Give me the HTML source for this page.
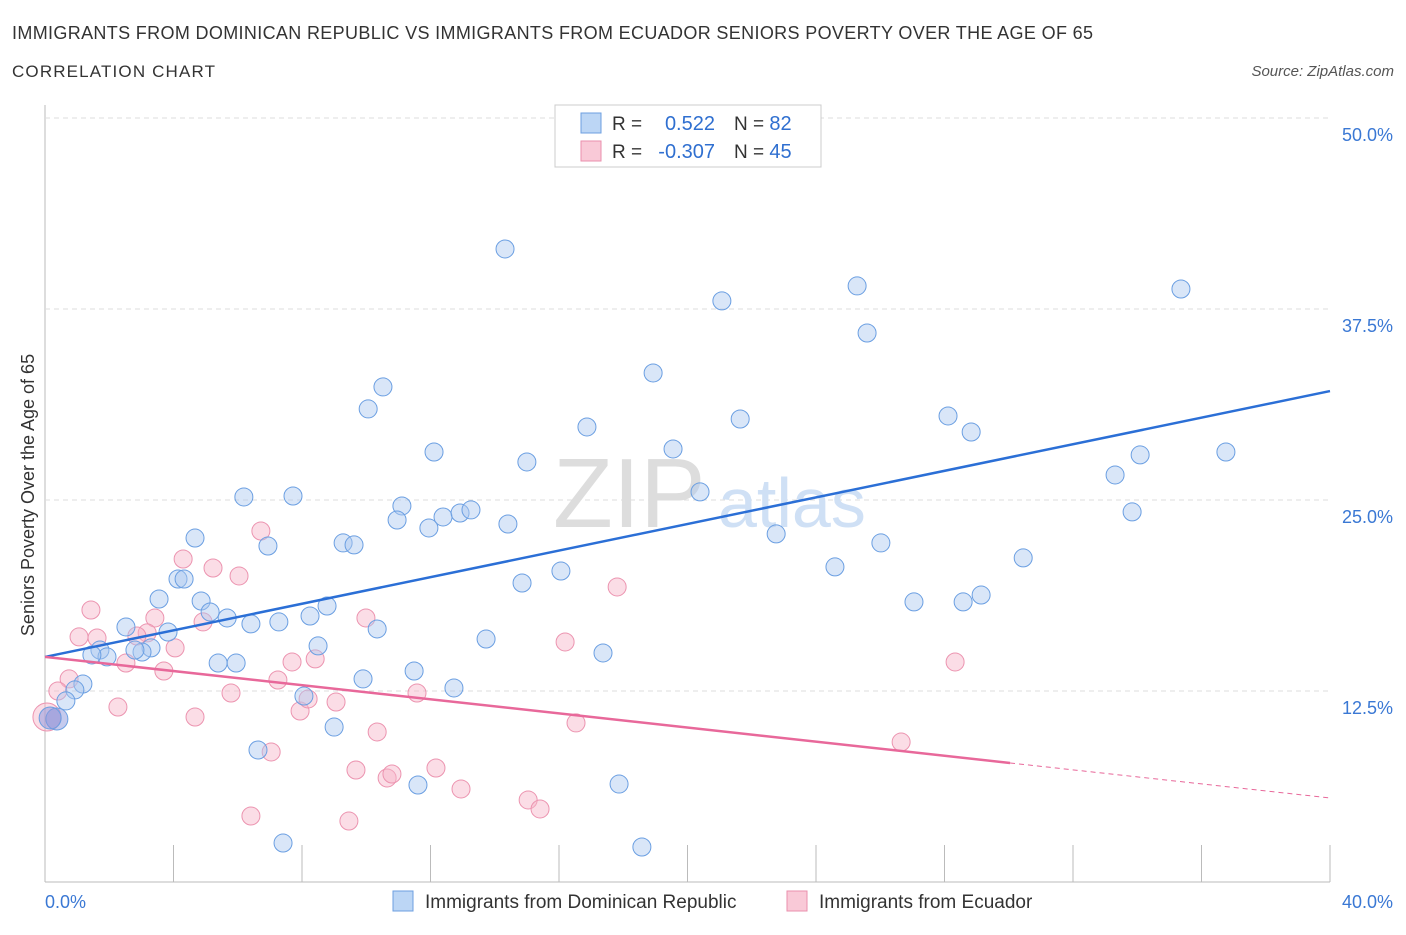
<!DOCTYPE html>
<html><head><meta charset="utf-8"><style>
body{margin:0;background:#fff;font-family:"Liberation Sans",sans-serif;}
svg text{font-family:"Liberation Sans",sans-serif;}
</style></head><body>
<svg width="1406" height="930" xmlns="http://www.w3.org/2000/svg">
<text x="12" y="39" font-size="18" fill="#333" textLength="1081">IMMIGRANTS FROM DOMINICAN REPUBLIC VS IMMIGRANTS FROM ECUADOR SENIORS POVERTY OVER THE AGE OF 65</text>
<text x="12" y="77" font-size="17" fill="#333" textLength="203">CORRELATION CHART</text>
<text x="1394" y="76" font-size="15" fill="#555" font-style="italic" text-anchor="end">Source: ZipAtlas.com</text>
<g id="grid"></g>
<text x="553" y="527" font-size="98" fill="#ddd" font-family="Liberation Serif">ZIP</text>
<text x="718" y="527" font-size="70" fill="#cfe0f5">atlas</text>
<g id="pts"></g>
<g id="lines"></g>
<text transform="translate(34,495) rotate(-90)" font-size="18" fill="#333" text-anchor="middle">Seniors Poverty Over the Age of 65</text>
<text x="45" y="908" font-size="18" fill="#3a78d4">0.0%</text>
<text x="1393" y="908" font-size="18" fill="#3a78d4" text-anchor="end">40.0%</text>
<g>
<rect x="555" y="105" width="266" height="62" fill="#fff" stroke="#ccc"/>
<rect x="581" y="113" width="20" height="20" fill="#bcd6f5" stroke="#6d9fe0"/>
<rect x="581" y="141" width="20" height="20" fill="#f9c9d7" stroke="#ea8fac"/>
<text x="612" y="130" font-size="19" fill="#333">R = </text>
<text x="715" y="130" font-size="20" fill="#2f6fd0" text-anchor="end">0.522</text>
<text x="734" y="130" font-size="19" fill="#333">N = <tspan fill="#2f6fd0" font-size="20">82</tspan></text>
<text x="612" y="158" font-size="19" fill="#333">R = </text>
<text x="715" y="158" font-size="20" fill="#2f6fd0" text-anchor="end">-0.307</text>
<text x="734" y="158" font-size="19" fill="#333">N = <tspan fill="#2f6fd0" font-size="20">45</tspan></text>
</g>
<g>
<rect x="393" y="891" width="20" height="20" fill="#bcd6f5" stroke="#6d9fe0"/>
<text x="425" y="908" font-size="19" fill="#333">Immigrants from Dominican Republic</text>
<rect x="787" y="891" width="20" height="20" fill="#f9c9d7" stroke="#ea8fac"/>
<text x="819" y="908" font-size="19" fill="#333">Immigrants from Ecuador</text>
</g>
</svg>
<script>
const blueX=[14.32,21.07,25.28,35.36,25.59,10.52,10.06,18.93,16.87,21.64,28.11,28.83,12.11,15.00,19.55,33.31,34.09,36.76,6.19,7.72,11.11,10.96,11.95,12.39,12.92,13.26,14.41,20.39,33.84,4.67,6.94,9.28,9.62,22.76,26.02,30.45,16.06,14.85,24.59,4.14,4.33,3.55,4.86,5.14,5.67,6.41,7.28,8.25,8.78,27.05,28.58,29.14,2.52,3.83,10.34,13.73,8.50,3.30,3.02,2.80,1.71,1.93,1.46,5.39,5.95,17.37,11.49,9.90,12.73,1.18,0.93,0.65,8.06,9.00,6.63,11.61,17.87,7.41,18.58,0.37,0.16];
const blueY=[41.43,38.03,39.01,38.81,35.93,32.40,30.96,33.31,29.78,30.30,30.50,29.45,28.14,27.49,28.34,26.64,27.95,28.14,25.20,25.26,24.61,23.69,23.17,23.89,24.15,24.35,23.43,25.53,24.22,22.51,21.99,22.19,22.06,22.78,22.19,21.21,20.35,19.57,20.62,19.83,19.83,18.52,18.39,17.67,17.28,16.89,17.02,17.41,18.06,18.33,18.33,18.78,16.69,16.36,16.56,15.90,15.45,15.32,15.05,15.18,15.18,14.73,14.86,14.33,14.33,14.99,13.81,13.29,12.70,12.96,12.57,11.85,12.17,10.14,8.64,6.35,6.41,2.55,2.29,10.67,10.73];
const pinkX=[1.43,1.06,1.62,2.52,0.75,0.40,2.27,4.30,5.23,6.04,6.72,3.42,3.18,2.86,4.05,3.70,4.92,4.67,5.79,7.25,7.69,8.41,9.99,9.06,7.94,8.19,10.34,7.04,9.68,10.65,10.80,6.41,9.46,11.58,12.17,17.81,16.19,16.53,12.95,15.04,15.41,28.33,26.65,0.06];
const pinkY=[17.80,16.04,15.97,14.33,13.29,12.50,11.45,21.14,20.55,20.03,22.97,17.28,16.30,16.10,15.32,13.81,17.02,10.80,12.37,13.22,14.40,14.60,17.28,11.78,11.19,11.98,9.82,8.51,7.33,6.81,7.07,4.32,3.99,12.37,7.46,19.31,15.71,10.41,6.09,5.37,4.78,14.40,9.16,10.80];
const yTicks=[12.5,25.0,37.5,50.0];
const xTicks=[0,4,8,12,16,20,24,28,32,36,40];
const blueTrend=[14.73,32.13];
const pinkTrend=[14.73,7.79,5.50];
const pinkSolidEnd=30.04;
const NS='http://www.w3.org/2000/svg';
const sx=v=>45+v*32.125, sy=v=>882-v*15.28;
function mk(t,a,p){const e=document.createElementNS(NS,t);for(const k in a)e.setAttribute(k,a[k]);p.appendChild(e);return e;}
const grid=document.getElementById('grid');
mk('line',{x1:45,y1:105,x2:45,y2:882,stroke:'#bbb','stroke-width':1},grid);
mk('line',{x1:45,y1:882,x2:1330,y2:882,stroke:'#bbb','stroke-width':1},grid);
yTicks.forEach(v=>{
 const l=mk('line',{x1:45,y1:sy(v),x2:1330,y2:sy(v),stroke:'#ddd','stroke-dasharray':'5,4'},grid);
 
 
 const t=mk('text',{x:1393,y:sy(v)+23,'font-size':18,fill:'#3a78d4','text-anchor':'end'},grid);
 t.textContent=v.toFixed(1)+'%';
 
 
});
xTicks.forEach(v=>{
 const l=mk('line',{x1:sx(v),y1:845,x2:sx(v),y2:882,stroke:'#bbb'},grid);
 
 
});
const pts=document.getElementById('pts');
pinkX.forEach((x,i)=>{
 const big=i===pinkX.length-1;
 const c=mk('circle',{cx:sx(x),cy:sy(pinkY[i]),r:big?14:9,fill:'rgba(246,180,200,0.45)',stroke:'#ec94b0','stroke-width':1},pts);
 
 
});
blueX.forEach((x,i)=>{
 const big=i>=blueX.length-2;
 const c=mk('circle',{cx:sx(x),cy:sy(blueY[i]),r:big?11:9,fill:big?'rgba(140,150,220,0.5)':'rgba(170,200,240,0.45)',stroke:'#6b9fe2','stroke-width':1},pts);
 
 
});
const ln=document.getElementById('lines');
const b=mk('line',{x1:sx(0),y1:sy(blueTrend[0]),x2:sx(40),y2:sy(blueTrend[1]),stroke:'#2b6fd6','stroke-width':2.5},ln);


const p=mk('line',{x1:sx(0),y1:sy(pinkTrend[0]),x2:sx(pinkSolidEnd),y2:sy(pinkTrend[1]),stroke:'#e8689a','stroke-width':2.5},ln);


const pd=mk('line',{x1:sx(pinkSolidEnd),y1:sy(pinkTrend[1]),x2:sx(40),y2:sy(pinkTrend[2]),stroke:'#e8689a','stroke-width':1,'stroke-dasharray':'5,4'},ln);


</script>
</body></html>
